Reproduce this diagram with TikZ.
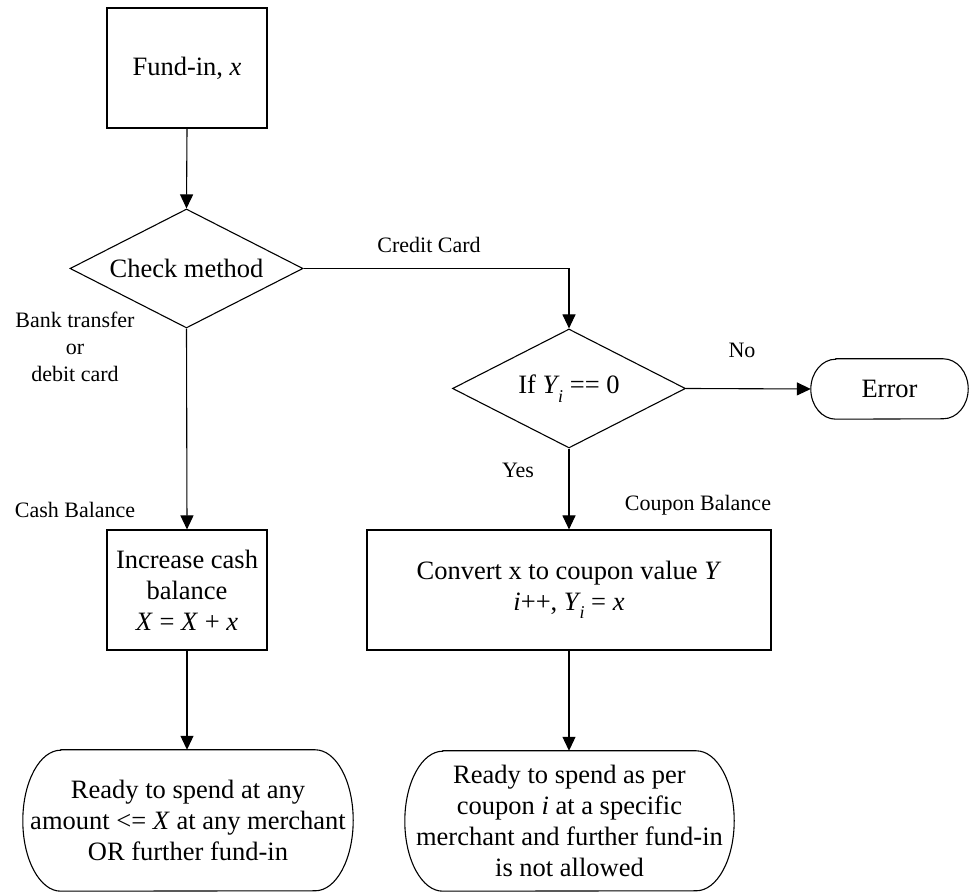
\documentclass[tikz,border=0pt]{standalone}
\usepackage{fontspec}
\setmainfont{Liberation Serif}
\usetikzlibrary{shapes.geometric,arrows.meta}
\newcommand\subi[1]{\kern-1.5pt\raisebox{-0.32em}{\fontsize{18}{18}\selectfont\textit{#1}}}
\begin{document}
\begin{tikzpicture}[x=1pt,y=1pt,
  big/.style={font=\fontsize{26.5}{31}\selectfont, align=center},
  small/.style={font=\fontsize{22}{27}\selectfont, align=center, inner sep=0pt},
  procbox/.style={draw, line width=1.1pt, rectangle, inner sep=0pt, big},
  decis/.style={draw, line width=1.1pt, diamond, inner sep=0pt, minimum width=233pt, minimum height=119pt},
  termbox/.style={rectangle, inner sep=0pt, big},
  outline/.style={line width=1.1pt},
  arr/.style={line width=1.1pt, -{Triangle[length=14pt,width=13pt]}}]
\useasboundingbox (0,0) rectangle (969,893);

% nodes
\node[procbox, minimum width=160pt, minimum height=120pt] (fund) at (187,825) {Fund-in, \textit{x}};
\node[decis] (check) at (186.5,624.5) {};
\node[big] (checkt) at (check.center) {Check method};
\node[decis] (ifd) at (569,504.5) {};
\node[big] (ift) at (ifd.center) {If \textit{Y}\subi{i} == 0};
\node[termbox, minimum width=157pt, minimum height=60pt] (err) at (889.5,504) {Error};
\node[procbox, minimum width=160pt, minimum height=120pt] (inc) at (187,303) {Increase cash\\balance\\\textit{X} = \textit{X} + \textit{x}};
\node[procbox, minimum width=404pt, minimum height=120pt] (conv) at (569,303) {Convert x to coupon value \textit{Y}\\\textit{i}++, \textit{Y}\subi{i} = \textit{x}};
\node[termbox, minimum width=330pt, minimum height=141pt] (t1) at (188,72.5) {Ready to spend at any\\amount <= \textit{X} at any merchant\\OR further fund-in};
\node[termbox, minimum width=329pt, minimum height=140pt] (t2) at (569.5,72) {Ready to spend as per\\coupon \textit{i} at a specific\\merchant and further fund-in\\is not allowed};

% terminal outlines
\draw[outline] ([xshift=25pt]err.north west) -- ([xshift=-25pt]err.north east)
  arc[start angle=90, end angle=-90, x radius=25pt, y radius=30pt]
  -- ([xshift=25pt]err.south west)
  arc[start angle=270, end angle=90, x radius=25pt, y radius=30pt] -- cycle;
\draw[outline] ([xshift=38pt]t1.north west) -- ([xshift=-38pt]t1.north east)
  arc[start angle=90, end angle=-90, x radius=38pt, y radius=70.5pt]
  -- ([xshift=38pt]t1.south west)
  arc[start angle=270, end angle=90, x radius=38pt, y radius=70.5pt] -- cycle;
\draw[outline] ([xshift=38pt]t2.north west) -- ([xshift=-38pt]t2.north east)
  arc[start angle=90, end angle=-90, x radius=38pt, y radius=70pt]
  -- ([xshift=38pt]t2.south west)
  arc[start angle=270, end angle=90, x radius=38pt, y radius=70pt] -- cycle;

% labels
\node[small] (bank) at (75,546) {Bank transfer\\or\\debit card};
\node[small] (cash) at (75,383) {Cash Balance};
\node[small] (credit) at (429,648) {Credit Card};
\node[small] (no) at (742,543) {No};
\node[small] (yes) at (518,423) {Yes};
\node[small] (coupon) at (698,388) {Coupon Balance};

% connectors
\draw[arr] (fund.south) -- (check.north);
\draw[arr] (check.south) -- (inc.north);
\draw[arr] (check.east) -| (ifd.north);
\draw[arr] (ifd.east) -- (err.west);
\draw[arr] (ifd.south) -- (conv.north);
\draw[arr] (inc.south) -- (t1.north -| inc.south);
\draw[arr] (conv.south) -- (t2.north -| conv.south);
\end{tikzpicture}
\end{document}
